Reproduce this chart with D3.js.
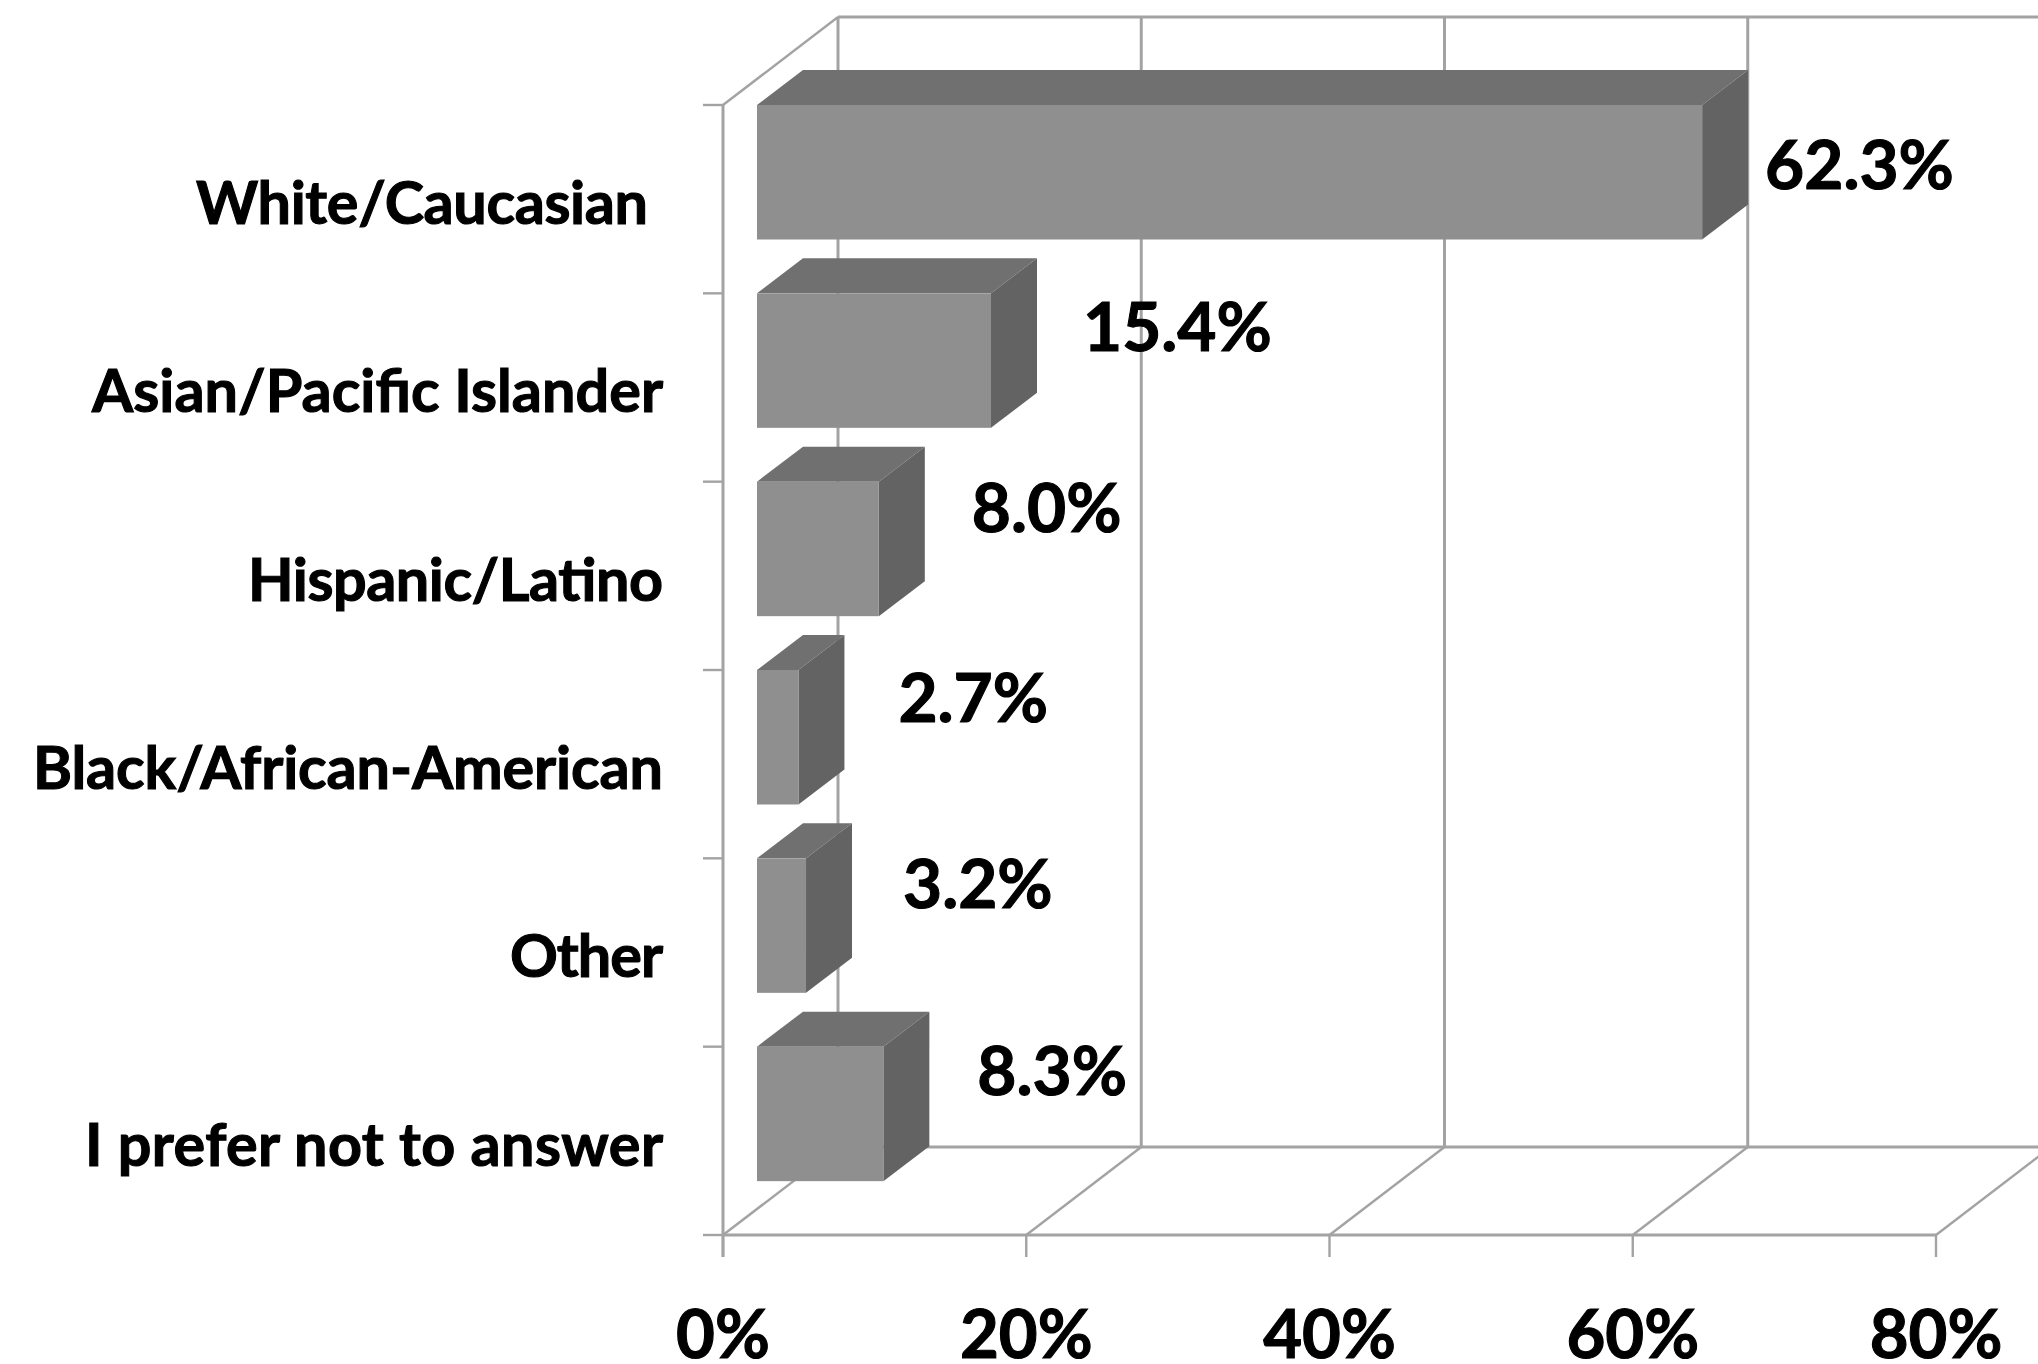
<!DOCTYPE html>
<html><head><meta charset="utf-8">
<script src="https://cdn.jsdelivr.net/npm/d3@7/dist/d3.min.js"></script>
<style>html,body{margin:0;padding:0;background:#fff}svg{display:block}
text{font-family:Lato,"Open Sans",sans-serif;font-weight:700;fill:#000;stroke:#000;stroke-width:1.1px;paint-order:stroke}</style></head>
<body><svg id="c" width="2038" height="1364"></svg>
<script>
const categories=["White/Caucasian","Asian/Pacific Islander","Hispanic/Latino","Black/African-American","Other","I prefer not to answer"];
const values=[62.3,15.4,8.0,2.7,3.2,8.3];
const valueLabels=["62.3%","15.4%","8.0%","2.7%","3.2%","8.3%"];
const xTicks=[0,20,40,60,80];

const W=2038,H=1364;
const svg=d3.select("#c");
const x=d3.scaleLinear().domain([0,80]).range([723,1936]);
const y=d3.scaleBand().domain(categories).range([105,1235]);
const depthX=115,depthY=88,barDX=46,barDY=35,barInset=34.5,barH=134.5;
const grid="#a3a3a3";
const clip=svg.append("defs").append("clipPath").attr("id","page").append("rect").attr("width",W).attr("height",H);
const g=svg.append("g").attr("clip-path","url(#page)");
const yTop=y.range()[0],yBot=y.range()[1];
function ln(x1,y1,x2,y2,w){g.append("line").attr("x1",x1).attr("y1",y1).attr("x2",x2).attr("y2",y2).attr("stroke",grid).attr("stroke-width",w||3);}
// back wall
xTicks.forEach(t=>{ if(t<80) ln(x(t)+depthX,yTop-depthY,x(t)+depthX,yBot-depthY,3);
  ln(x(t),yBot,x(t)+depthX,yBot-depthY,2.4);
  ln(x(t),yBot,x(t),yBot+22,2.4);});
ln(x(0)+depthX,yTop-depthY,W,yTop-depthY,3);
ln(x(0)+depthX,yBot-depthY,W,yBot-depthY,3);
// left wall + front axis
ln(x(0),yTop,x(0),yBot+22,3);
ln(x(0),yTop,x(0)+depthX,yTop-depthY,2.4);
ln(x(0),yBot,x(80),yBot,3);
categories.forEach(c=>ln(x(0)-20,y(c),x(0),y(c),2.4));
ln(x(0)-20,yBot,x(0),yBot,2.4);
// bars
const bx=v=>x(v)+barInset, b0=x(0)+34;
const bars=g.selectAll("g.bar").data(categories.map((c,i)=>({c,v:values[i],l:valueLabels[i]}))).join("g").attr("class","bar");
bars.append("polygon").attr("fill","#707070").attr("points",d=>{const t=y(d.c);return [[b0,t],[b0+barDX,t-barDY],[bx(d.v)+barDX,t-barDY],[bx(d.v),t]].join(" ")});
bars.append("polygon").attr("fill","#636363").attr("points",d=>{const t=y(d.c);return [[bx(d.v),t],[bx(d.v)+barDX,t-barDY],[bx(d.v)+barDX,t-barDY+barH],[bx(d.v),t+barH]].join(" ")});
bars.append("rect").attr("fill","#8f8f8f").attr("x",b0).attr("y",d=>y(d.c)).attr("width",d=>bx(d.v)-b0).attr("height",barH);
// category labels
const labelSize=59.3;
const labelWidths=[452,571,415,630,153,578];
g.selectAll("text.cat").data(categories).join("text").attr("class","cat")
 .attr("x",(d,i)=>i==0?648:663).attr("y",d=>y(d)+119).attr("text-anchor","end").attr("font-size",labelSize)
 .attr("textLength",(d,i)=>labelWidths[i]).attr("lengthAdjust","spacing").text(d=>d);
// value labels
const labelGap=[63,92,93,100,97,94], labelDrop=[84,58,50,52,50,48];
bars.append("text").attr("x",(d,i)=>bx(d.v)+labelGap[i]).attr("y",(d,i)=>y(d.c)+labelDrop[i]).attr("font-size",67.5).text(d=>d.l);
// x labels
g.selectAll("text.xt").data(xTicks).join("text").attr("class","xt").attr("x",d=>x(d)).attr("y",1358).attr("text-anchor","middle").attr("font-size",67).text(d=>d+"%");
</script></body></html>
